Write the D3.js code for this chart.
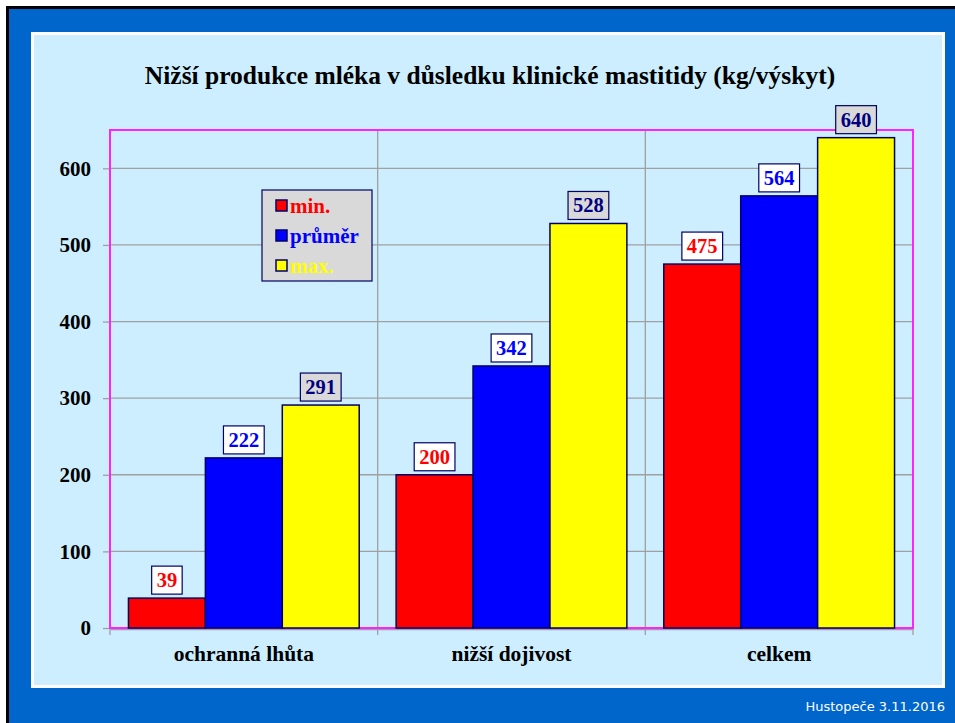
<!DOCTYPE html>
<html>
<head>
<meta charset="utf-8">
<script src="https://cdn.jsdelivr.net/npm/d3@7"></script>
<style>
  body { margin: 0; background: #fff; }
  svg { display: block; }
</style>
</head>
<body>
<script>
// data
const categories = ["ochranná lhůta", "nižší dojivost", "celkem"]
const series = ["min.", "průměr", "max."]
const minValues = [39, 200, 475]
const avgValues = [222, 342, 564]
const maxValues = [291, 528, 640]
const yTicks = [0, 100, 200, 300, 400, 500, 600]

const fills = ["#ff0000", "#0000ff", "#ffff00"]
const labelText = ["#ff0000", "#0000ff", "#000080"]
const labelFill = ["#ffffff", "#ffffff", "#d9d9d9"]
const serif = "'Liberation Serif', 'Times New Roman', serif"

const W = 955, H = 723
const plot = { left: 110, right: 913, top: 130, bottom: 628 }

const svg = d3.select("body").append("svg").attr("width", W).attr("height", H)

// slide background
svg.append("rect").attr("width", W).attr("height", H).attr("fill", "#fff")
svg.append("rect").attr("x", 6).attr("y", 6).attr("width", W - 6).attr("height", H - 6).attr("fill", "#000")
svg.append("rect").attr("x", 9).attr("y", 9).attr("width", W - 9).attr("height", H - 9).attr("fill", "#0066cc")
svg.append("rect").attr("x", 31).attr("y", 32).attr("width", 914).attr("height", 656).attr("fill", "#ffffff")
svg.append("rect").attr("x", 34).attr("y", 35).attr("width", 908).attr("height", 650).attr("fill", "#cceeff")

svg.append("text")
    .attr("x", 945).attr("y", 711)
    .attr("text-anchor", "end")
    .attr("fill", "#ffffff")
    .style("font-family", "'DejaVu Sans', sans-serif")
    .style("font-size", "13px")
    .text("Hustopeče 3.11.2016")

svg.append("text")
    .attr("x", 490).attr("y", 84)
    .attr("text-anchor", "middle")
    .style("font-family", serif)
    .style("font-weight", "bold")
    .style("font-size", "25.5px")
    .text("Nižší produkce mléka v důsledku klinické mastitidy (kg/výskyt)")

const table = categories.map((c, i) => ({
    category: c,
    values: [minValues[i], avgValues[i], maxValues[i]]
}))

const x0 = d3.scaleBand().domain(categories).range([plot.left, plot.right]).paddingInner(0).paddingOuter(0)
const x1 = d3.scaleBand().domain(series).range([0, x0.bandwidth()]).paddingInner(0).paddingOuter(0.24)
const y = d3.scaleLinear().domain([0, 650]).range([plot.bottom, plot.top])

// grid
svg.append("g").selectAll("line")
    .data(yTicks.filter(d => d > 0))
    .join("line")
    .attr("x1", plot.left).attr("x2", plot.right)
    .attr("y1", d => y(d)).attr("y2", d => y(d))
    .attr("stroke", "#a0a0a0").attr("stroke-width", 1.3)

svg.append("g").selectAll("line")
    .data(categories.slice(1))
    .join("line")
    .attr("x1", d => x0(d)).attr("x2", d => x0(d))
    .attr("y1", plot.top).attr("y2", plot.bottom)
    .attr("stroke", "#a0a0a0").attr("stroke-width", 1.3)

// y axis
const yAxis = svg.append("g")
    .attr("transform", `translate(${plot.left},0)`)
    .call(d3.axisLeft(y).tickValues(yTicks).tickSize(7).tickPadding(12))
yAxis.select(".domain").remove()
yAxis.selectAll(".tick line").attr("stroke", "#a0a0a0").attr("stroke-width", 1.3)
yAxis.selectAll(".tick text")
    .attr("fill", "#000")
    .style("font-family", serif)
    .style("font-weight", "bold")
    .style("font-size", "21px")

// x axis
const xAxis = svg.append("g")
    .attr("transform", `translate(0,${plot.bottom + 1})`)
    .call(d3.axisBottom(x0).tickSize(0).tickPadding(17))
xAxis.select(".domain").attr("stroke", "#a0a0a0").attr("stroke-width", 1.3)
xAxis.selectAll(".tick text")
    .attr("fill", "#000")
    .style("font-family", serif)
    .style("font-weight", "bold")
    .style("font-size", "21.5px")

svg.append("g").selectAll("line")
    .data(x0.domain().map(d => x0(d)).concat([plot.right]))
    .join("line")
    .attr("x1", d => d).attr("x2", d => d)
    .attr("y1", plot.bottom).attr("y2", plot.bottom + 7)
    .attr("stroke", "#a0a0a0").attr("stroke-width", 1.3)

// plot frame
svg.append("rect")
    .attr("x", plot.left).attr("y", plot.top)
    .attr("width", plot.right - plot.left).attr("height", plot.bottom - plot.top)
    .attr("fill", "none").attr("stroke", "#ff22ff").attr("stroke-width", 2)

// bars
const groups = svg.append("g").selectAll("g")
    .data(table)
    .join("g")
    .attr("transform", d => `translate(${x0(d.category)},0)`)

groups.selectAll("rect")
    .data(d => d.values.map((v, i) => ({ key: series[i], value: v, i: i })))
    .join("rect")
    .attr("x", d => x1(d.key))
    .attr("y", d => y(d.value))
    .attr("width", x1.bandwidth())
    .attr("height", d => y(0) - y(d.value))
    .attr("fill", d => fills[d.i])
    .attr("stroke", "#000066").attr("stroke-width", 1.5)

// value labels in boxes
const labels = groups.selectAll("g.lab")
    .data(d => d.values.map((v, i) => ({ key: series[i], value: v, i: i })))
    .join("g").attr("class", "lab")

labels.each(function (d) {
    const g = d3.select(this)
    const cx = x1(d.key) + x1.bandwidth() / 2
    const bottom = y(d.value) - 4
    const rect = g.append("rect")
    const t = g.append("text")
        .attr("x", cx).attr("y", bottom - 7)
        .attr("text-anchor", "middle")
        .attr("fill", labelText[d.i])
        .style("font-family", serif)
        .style("font-weight", "bold")
        .style("font-size", "20.5px")
        .text(d.value)
    const w = t.node().getComputedTextLength() + 10
    rect.attr("x", cx - w / 2).attr("y", bottom - 28)
        .attr("width", w).attr("height", 28)
        .attr("fill", labelFill[d.i])
        .attr("stroke", "#000066").attr("stroke-width", 1.2)
})

// legend
const legend = svg.append("g").attr("transform", "translate(262,190)")
legend.append("rect")
    .attr("width", 110).attr("height", 91)
    .attr("fill", "#d9d9d9").attr("stroke", "#000066").attr("stroke-width", 1.2)
const items = legend.selectAll("g")
    .data(series)
    .join("g")
    .attr("transform", (d, i) => `translate(14,${16 + i * 30})`)
items.append("rect")
    .attr("x", 0).attr("y", -6).attr("width", 11).attr("height", 11)
    .attr("fill", (d, i) => fills[i])
    .attr("stroke", "#000066").attr("stroke-width", 1.5)
items.append("text")
    .attr("x", 14).attr("y", 6.5)
    .attr("fill", (d, i) => fills[i])
    .style("font-family", serif)
    .style("font-weight", "bold")
    .style("font-size", "21px")
    .text(d => d)
</script>
</body>
</html>
